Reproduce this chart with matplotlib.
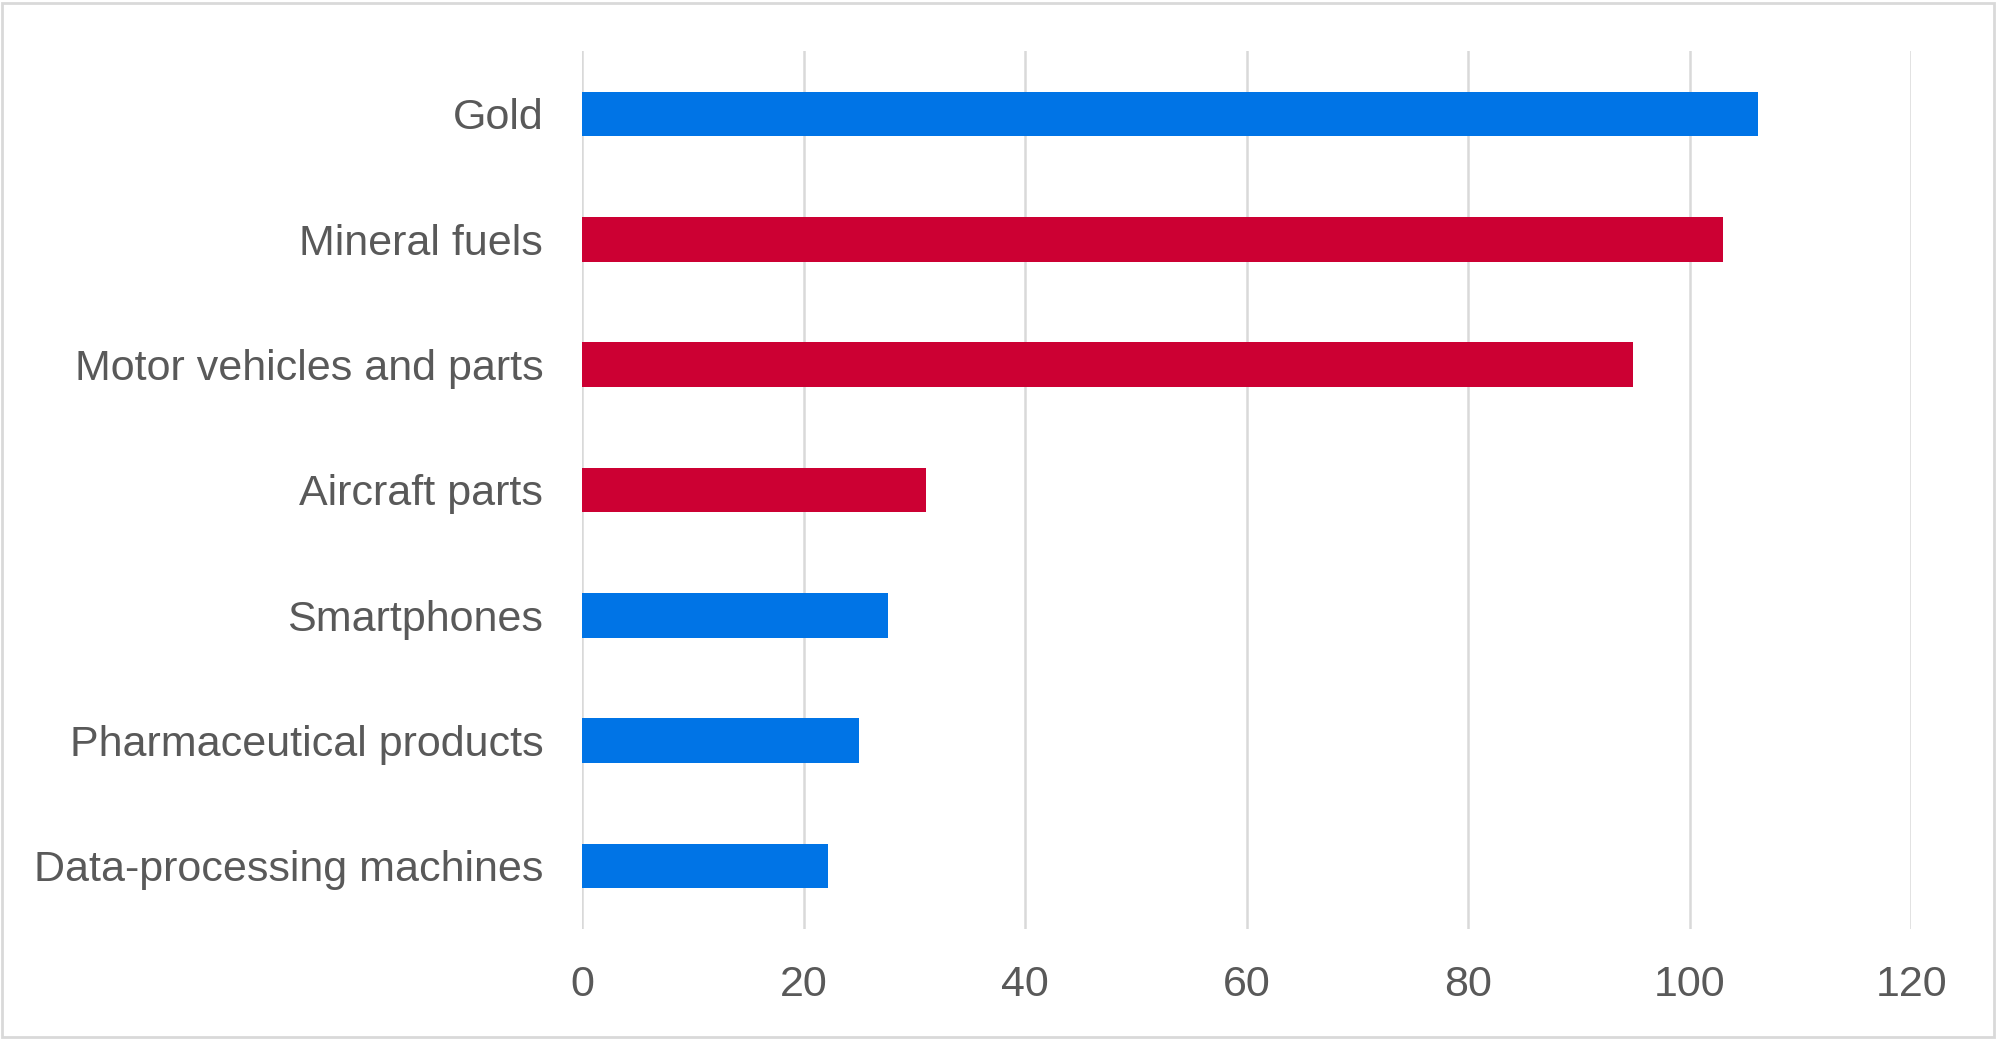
import matplotlib
matplotlib.use("Agg")
import matplotlib.pyplot as plt
from matplotlib.patches import Rectangle

categories = ["Gold", "Mineral fuels", "Motor vehicles and parts", "Aircraft parts",
              "Smartphones", "Pharmaceutical products", "Data-processing machines"]
values = [106.2, 103.0, 94.9, 31.1, 27.6, 25.0, 22.2]
bar_colors = ["#0074E6", "#CC0033", "#CC0033", "#CC0033", "#0074E6", "#0074E6", "#0074E6"]
x_ticks = [0, 20, 40, 60, 80, 100, 120]

plt.rcParams['font.family'] = ['Liberation Sans', 'DejaVu Sans']
text_color = "#595959"

fig = plt.figure(figsize=(19.98, 10.39), dpi=100)
ax = fig.add_axes([0.2913, 0.1062, 0.9565 - 0.2913, 0.9506 - 0.1062])

y = list(range(len(categories)))
ax.barh(y, values, height=0.356, color=bar_colors, zorder=3)
ax.set_ylim(len(categories) - 0.5, -0.5)
ax.set_xlim(0, 120)
ax.set_xticks(x_ticks)
ax.set_xticklabels([str(t) for t in x_ticks])
ax.set_yticks(y)
ax.set_yticklabels(categories)
ax.tick_params(axis='both', length=0, labelsize=31, colors=text_color)
ax.tick_params(axis='x', pad=26)
ax.tick_params(axis='y', pad=28)
ax.grid(axis='x', color="#d9d9d9", linewidth=1.8, zorder=0)
ax.grid(axis='y', visible=False)
for s in ax.spines.values():
    s.set_visible(False)

fig.patches.append(Rectangle((0.001, 0.0015), 0.997, 0.996, transform=fig.transFigure,
                             fill=False, edgecolor="#d9d9d9", linewidth=2))

fig.savefig("out.png", dpi=100, facecolor="white")
